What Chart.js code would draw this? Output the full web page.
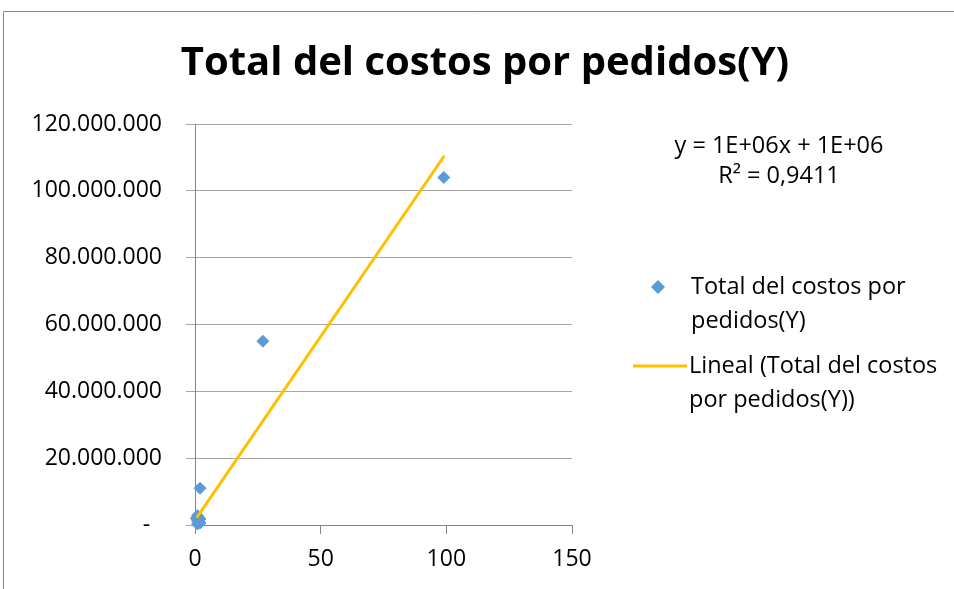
<!DOCTYPE html>
<html>
<head>
<meta charset="utf-8">
<script src="https://cdn.jsdelivr.net/npm/chart.js@4.4.1/dist/chart.umd.min.js"></script>
<style>
  html, body { margin: 0; padding: 0; background: #fff; }
  #wrap { position: relative; width: 954px; height: 589px; }
</style>
</head>
<body>
<div id="wrap"><canvas id="chart" width="954" height="589"></canvas></div>
<script>
// pedidos (X) vs total costos (Y)
const pedidosX = [0.5, 1, 1, 1, 2, 2, 2, 27, 99];
const costosY = [2000000, 300000, 1200000, 2800000, 600000, 1800000, 11000000, 55000000, 104000000];

// linear trend endpoints
const trendX = [0.7, 99.2];
const trendY = [2200000, 110500000];

const xTicks = [0, 50, 100, 150];
const yTicks = [0, 20000000, 40000000, 60000000, 80000000, 100000000, 120000000];

const titleText = 'Total del costos por pedidos(Y)';
const seriesName = ['Total del costos por', 'pedidos(Y)'];
const trendName = ['Lineal (Total del costos', 'por pedidos(Y))'];
const equation = ['y = 1E+06x + 1E+06', 'R\u00b2 = 0,9411'];

const FONT = "'Open Sans', sans-serif";
const BLUE = '#5b9bd5';
const GOLD = '#ffc000';
const GRID = '#a6a6a6';
const AXIS = '#868686';

function fmtThousands(v) {
  if (v === 0) return '-  ';
  return String(Math.round(v)).replace(/\B(?=(\d{3})+(?!\d))/g, '.');
}

// title, equation box, legend and outer frame
const decorPlugin = {
  id: 'decor',
  beforeDraw(chart) {
    const ctx = chart.ctx;
    ctx.save();
    ctx.strokeStyle = AXIS;
    ctx.lineWidth = 1;
    ctx.beginPath();
    ctx.moveTo(3.5, 589);
    ctx.lineTo(3.5, 11.5);
    ctx.lineTo(954, 11.5);
    ctx.stroke();
    ctx.restore();
  },
  afterDraw(chart) {
    const ctx = chart.ctx;
    ctx.save();
    ctx.fillStyle = '#000';
    ctx.textBaseline = 'middle';

    ctx.textAlign = 'center';
    ctx.font = 'bold 40px ' + FONT;
    ctx.fillText(titleText, 485, 64);

    ctx.font = '23.5px ' + FONT;
    ctx.fillText(equation[0], 779, 146);
    ctx.fillText(equation[1], 779, 176);

    ctx.textAlign = 'left';
    // scatter entry
    const dx = 658, dy = 287, r = 7;
    ctx.fillStyle = BLUE;
    ctx.beginPath();
    ctx.moveTo(dx - r, dy);
    ctx.lineTo(dx, dy - r);
    ctx.lineTo(dx + r, dy);
    ctx.lineTo(dx, dy + r);
    ctx.closePath();
    ctx.fill();
    ctx.fillStyle = '#000';
    ctx.fillText(seriesName[0], 691, 287);
    ctx.fillText(seriesName[1], 691, 321);

    // trendline entry
    ctx.strokeStyle = GOLD;
    ctx.lineWidth = 3;
    ctx.beginPath();
    ctx.moveTo(633, 366);
    ctx.lineTo(687, 366);
    ctx.stroke();
    ctx.fillText(trendName[0], 689, 366);
    ctx.fillText(trendName[1], 689, 400);
    ctx.restore();
  }
};

const points = pedidosX.map((x, i) => ({ x: x, y: costosY[i] }));
const trend = trendX.map((x, i) => ({ x: x, y: trendY[i] }));

new Chart(document.getElementById('chart'), {
  type: 'scatter',
  data: {
    datasets: [
      {
        type: 'line',
        label: trendName.join(' '),
        data: trend,
        borderColor: GOLD,
        borderWidth: 3,
        pointRadius: 0,
        fill: false,
        order: 0,
        clip: false
      },
      {
        label: seriesName.join(' '),
        data: points,
        pointStyle: 'rectRot',
        pointRadius: 6,
        pointBorderWidth: 1,
        backgroundColor: BLUE,
        borderColor: BLUE,
        order: 1,
        clip: false
      }
    ]
  },
  options: {
    responsive: false,
    animation: false,
    layout: { padding: { left: 0, top: 124, right: 382, bottom: 0 } },
    plugins: {
      legend: { display: false },
      title: { display: false },
      tooltip: { enabled: false }
    },
    scales: {
      x: {
        type: 'linear',
        min: 0,
        max: 150,
        afterBuildTicks: (scale) => { scale.ticks = xTicks.map(v => ({ value: v })); },
        afterFit: (scale) => { scale.height = 64; },
        grid: { drawOnChartArea: false, drawTicks: true, tickLength: 9, color: AXIS },
        border: { display: true, color: AXIS, width: 1 },
        ticks: { color: '#000', font: { family: FONT, size: 23 }, padding: 12 }
      },
      y: {
        type: 'linear',
        min: 0,
        max: 120000000,
        afterBuildTicks: (scale) => { scale.ticks = yTicks.map(v => ({ value: v })); },
        afterFit: (scale) => { scale.width = 195; },
        grid: { color: GRID, tickLength: 9, drawTicks: true },
        border: { display: true, color: AXIS, width: 1 },
        ticks: {
          color: '#000',
          font: { family: FONT, size: 23 },
          padding: 24,
          callback: (v) => fmtThousands(v)
        }
      }
    }
  },
  plugins: [decorPlugin]
});
</script>
</body>
</html>
